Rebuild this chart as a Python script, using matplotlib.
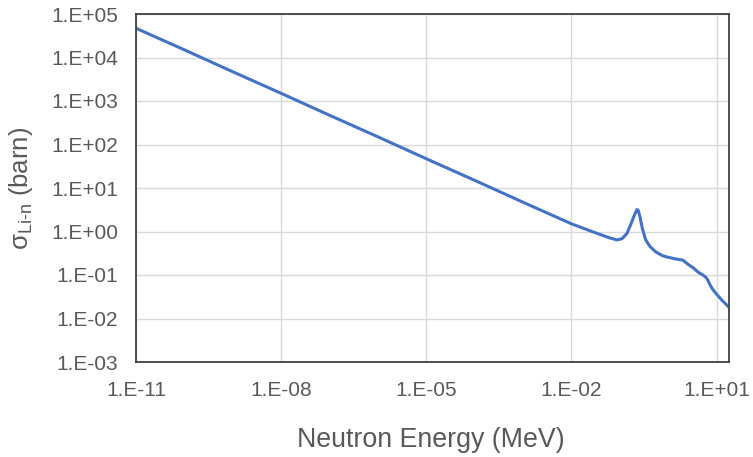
import matplotlib
matplotlib.use("Agg")
import matplotlib.pyplot as plt
from matplotlib.ticker import FixedLocator, FuncFormatter, NullLocator
import numpy as np

plt.rcParams['font.family'] = ['Liberation Sans', 'DejaVu Sans']
plt.rcParams['mathtext.fontset'] = 'custom'
plt.rcParams['mathtext.rm'] = 'Liberation Sans'
plt.rcParams['mathtext.it'] = 'Liberation Sans:italic'

# Neutron energy (MeV) and cross section (barn)
energy = [1e-11, 1e-10, 1e-9, 1e-8, 1e-7, 1e-6, 1e-5, 1e-4, 1e-3, 1e-2,
          3e-2, 6e-2, 0.087, 0.11, 0.14, 0.17, 0.2, 0.225, 0.238, 0.26, 0.29,
          0.34, 0.42, 0.55, 0.75, 0.93, 1.4, 2.0, 2.5, 3.3, 4.2, 5.2, 6.0,
          6.5, 7.5, 8.4, 10.0, 13.0, 18.0]
sigma = [4.7e4, 1.5e4, 4.7e3, 1.5e3, 470, 150, 47, 15, 4.7, 1.5,
         0.95, 0.72, 0.64, 0.68, 0.9, 1.5, 2.4, 3.2, 3.1, 2.2, 1.2,
         0.65, 0.45, 0.34, 0.28, 0.26, 0.235, 0.22, 0.18, 0.145, 0.115, 0.1, 0.088,
         0.078, 0.056, 0.046, 0.036, 0.026, 0.018]

x_ticks = [1e-11, 1e-8, 1e-5, 1e-2, 1e1]
y_ticks = [1e-3, 1e-2, 1e-1, 1e0, 1e1, 1e2, 1e3, 1e4, 1e5]

fig = plt.figure(figsize=(7.53, 4.57), dpi=100)
ax = fig.add_axes([136/753, 1 - 362/457, (729 - 136)/753, (362 - 14)/457])

ax.plot(energy, sigma, color='#4472C4', linewidth=2.2, solid_joinstyle='round')
ax.set_xscale('log')
ax.set_yscale('log')
ax.set_xlim(1e-11, 18)
ax.set_ylim(1e-3, 1e5)

def fmt(v, pos):
    e = int(round(np.log10(v)))
    return f"1.E{e:+03d}"

ax.xaxis.set_major_locator(FixedLocator(x_ticks))
ax.yaxis.set_major_locator(FixedLocator(y_ticks))
ax.xaxis.set_minor_locator(NullLocator())
ax.yaxis.set_minor_locator(NullLocator())
ax.xaxis.set_major_formatter(FuncFormatter(fmt))
ax.yaxis.set_major_formatter(FuncFormatter(fmt))

ax.grid(True, color='#d9d9d9', linewidth=1.0)
ax.set_axisbelow(True)
ax.tick_params(length=0, labelsize=15, labelcolor='#595959')
ax.tick_params(axis='x', pad=14)
ax.tick_params(axis='y', pad=13)
for s in ax.spines.values():
    s.set_color('#404040')
    s.set_linewidth(1.3)

ax.set_xlabel('Neutron Energy (MeV)', fontsize=19.3, color='#595959')
ax.set_ylabel('σ$_{\\mathrm{Li\\text{-}n}}$ (barn)', fontsize=18.5, color='#595959')
ax.xaxis.set_label_coords((431 - 136) / 593, (362 - 440) / 348)
ax.xaxis.label.set_va('center')
ax.yaxis.set_label_coords((21 - 136) / 593, 0.5)
ax.yaxis.label.set_va('center')
ax.yaxis.label.set_ha('center')

fig.savefig('out.png', dpi=100)
